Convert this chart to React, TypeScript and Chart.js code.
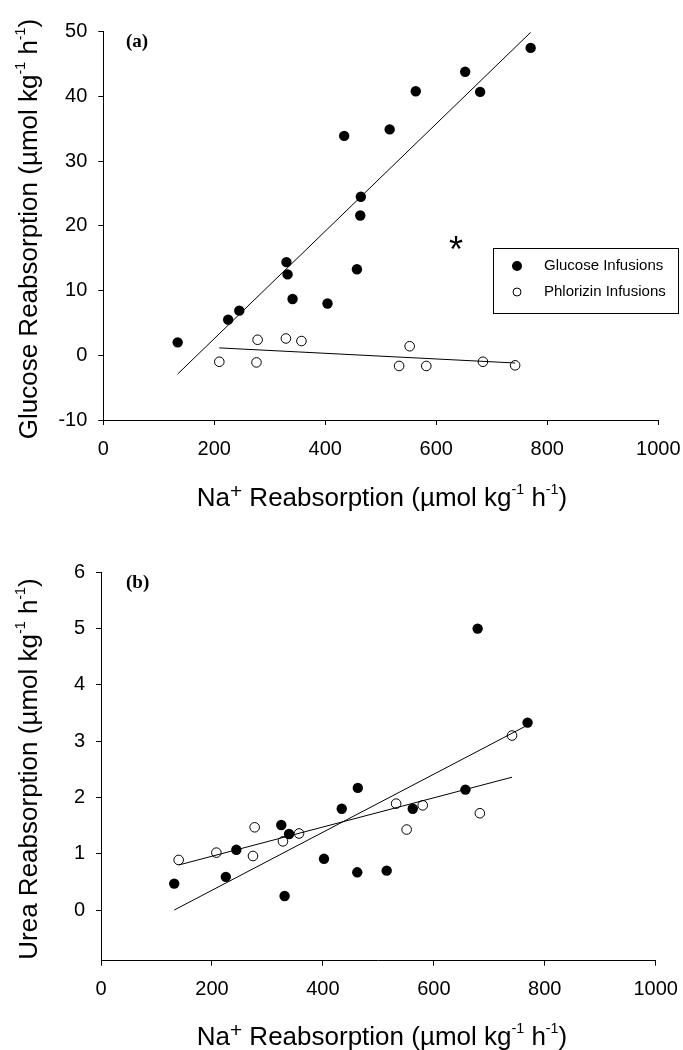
import React, { useEffect, useRef } from "react";
import { Chart, registerables } from "chart.js";

Chart.register(...registerables);

// ---------- data ----------
const naTicks = [0, 200, 400, 600, 800, 1000];
const glucoseTicks = [-10, 0, 10, 20, 30, 40, 50];
const ureaTicks = [0, 1, 2, 3, 4, 5, 6];

// Panel (a): glucose reabsorption vs Na+ reabsorption
const glucoseInfNa = [134, 225, 245, 330, 332, 341, 404, 434, 457, 463, 464, 516, 563, 652, 679, 770];
const glucoseInfGlu = [2.0, 5.5, 6.9, 14.4, 12.5, 8.7, 8.0, 33.9, 13.3, 21.6, 24.5, 34.9, 40.8, 43.8, 40.7, 47.5];
const phlorizinInfNa = [209, 276, 278, 329, 357, 533, 552, 582, 684, 742];
const phlorizinInfGlu = [-1.0, -1.1, 2.4, 2.6, 2.2, -1.65, 1.4, -1.65, -1.0, -1.55];
const glucoseFitNa = [134, 770];
const glucoseFitGlu = [-2.9, 49.9];
const phlorizinFitNa = [209, 742];
const phlorizinFitGlu = [1.14, -1.19];

// Panel (b): urea reabsorption vs Na+ reabsorption
const ureaGlucoseNa = [132, 225, 244, 325, 331, 339, 402, 434, 462, 463, 515, 562, 657, 679, 769];
const ureaGlucose = [0.47, 0.59, 1.07, 1.51, 0.25, 1.35, 0.91, 1.8, 0.67, 2.17, 0.7, 1.8, 2.14, 5.0, 3.33];
const ureaPhlorizinNa = [140, 208, 274, 277, 328, 357, 532, 551, 580, 683, 741];
const ureaPhlorizin = [0.89, 1.02, 0.96, 1.47, 1.22, 1.36, 1.89, 1.43, 1.86, 1.72, 3.1];
const ureaGlucoseFitNa = [132, 768];
const ureaGlucoseFit = [0.0, 3.28];
const ureaPhlorizinFitNa = [140, 741];
const ureaPhlorizinFit = [0.8, 2.36];

const legendLabels = ["Glucose Infusions", "Phlorizin Infusions"];

// ---------- helpers ----------
const SANS = "'Liberation Sans', Arial, Helvetica, sans-serif";
const SERIF = "'Liberation Serif', 'Times New Roman', serif";

type Seg = { t: string; scale?: number; rise?: number };

const naTitle: Seg[] = [
  { t: "Na" },
  { t: "+", scale: 0.8, rise: 0.3 },
  { t: " Reabsorption (\u00b5mol kg" },
  { t: "-1", scale: 0.55, rise: 0.45 },
  { t: " h" },
  { t: "-1", scale: 0.55, rise: 0.45 },
  { t: ")" },
];
const glucoseTitle: Seg[] = [
  { t: "Glucose Reabsorption (\u00b5mol kg" },
  { t: "-1", scale: 0.55, rise: 0.45 },
  { t: " h" },
  { t: "-1", scale: 0.55, rise: 0.45 },
  { t: ")" },
];
const ureaTitle: Seg[] = [
  { t: "Urea Reabsorption (\u00b5mol kg" },
  { t: "-1", scale: 0.55, rise: 0.45 },
  { t: " h" },
  { t: "-1", scale: 0.55, rise: 0.45 },
  { t: ")" },
];

function drawRich(
  ctx: CanvasRenderingContext2D,
  segs: Seg[],
  size: number,
  x: number,
  y: number,
  rotate: boolean
) {
  ctx.save();
  ctx.translate(x, y);
  if (rotate) ctx.rotate(-Math.PI / 2);
  ctx.fillStyle = "#000";
  ctx.textBaseline = "alphabetic";
  ctx.textAlign = "left";
  const widths: number[] = [];
  let total = 0;
  for (const s of segs) {
    ctx.font = `${size * (s.scale || 1)}px ${SANS}`;
    const w = ctx.measureText(s.t).width;
    widths.push(w);
    total += w;
  }
  let cx = -total / 2;
  segs.forEach((s, i) => {
    ctx.font = `${size * (s.scale || 1)}px ${SANS}`;
    ctx.fillText(s.t, cx, -(s.rise || 0) * size);
    cx += widths[i];
  });
  ctx.restore();
}

function pts(xs: number[], ys: number[]) {
  return xs.map((x, i) => ({ x, y: ys[i] }));
}

type PanelSpec = {
  W: number;
  H: number;
  left: number;
  right: number;
  top: number;
  bottom: number;
  yMin: number;
  yMax: number;
  yTicks: number[];
  filled: { x: number; y: number }[];
  open: { x: number; y: number }[];
  fits: { x: number; y: number }[][];
  decorate: (ctx: CanvasRenderingContext2D) => void;
};

function buildConfig(p: PanelSpec): any {
  const lineSets = p.fits.map((d) => ({
    data: d,
    showLine: true,
    borderColor: "#000",
    borderWidth: 1,
    pointRadius: 0,
    fill: false,
  }));
  return {
    type: "scatter",
    data: {
      datasets: [
        ...lineSets,
        {
          data: p.open,
          pointRadius: 4.8,
          pointBackgroundColor: "#fff",
          pointBorderColor: "#000",
          pointBorderWidth: 1,
          showLine: false,
        },
        {
          data: p.filled,
          pointRadius: 5.2,
          pointBackgroundColor: "#000",
          pointBorderColor: "#000",
          pointBorderWidth: 0,
          showLine: false,
        },
      ],
    },
    options: {
      responsive: false,
      animation: false,
      devicePixelRatio: 1,
      layout: {
        padding: { left: 0, top: p.top, right: p.W - p.right, bottom: 0 },
      },
      plugins: {
        legend: { display: false },
        tooltip: { enabled: false },
      },
      scales: {
        x: {
          type: "linear",
          min: 0,
          max: 1000,
          afterBuildTicks: (s: any) => {
            s.ticks = naTicks.map((v) => ({ value: v }));
          },
          afterFit: (s: any) => {
            s.height = p.H - p.bottom;
            s.paddingLeft = 0;
            s.paddingRight = 0;
          },
          grid: {
            display: true,
            drawOnChartArea: false,
            drawTicks: true,
            tickLength: 5,
            color: "#000",
            lineWidth: 1,
          },
          border: { display: true, color: "#000", width: 1 },
          ticks: {
            color: "#000",
            font: { family: SANS, size: 20 },
            padding: 12,
            maxRotation: 0,
            autoSkip: false,
            callback: (v: any) => String(v),
          },
        },
        y: {
          type: "linear",
          min: p.yMin,
          max: p.yMax,
          afterBuildTicks: (s: any) => {
            s.ticks = p.yTicks.map((v) => ({ value: v }));
          },
          afterFit: (s: any) => {
            s.width = p.left;
            s.paddingTop = 0;
            s.paddingBottom = 0;
          },
          grid: {
            display: true,
            drawOnChartArea: false,
            drawTicks: true,
            tickLength: 5,
            color: "#000",
            lineWidth: 1,
          },
          border: { display: true, color: "#000", width: 1 },
          ticks: {
            color: "#000",
            font: { family: SANS, size: 20 },
            padding: 11,
            autoSkip: false,
            callback: (v: any) => String(v),
          },
        },
      },
    },
    plugins: [
      {
        id: "decor",
        afterDraw: (chart: any) => {
          p.decorate(chart.ctx);
        },
      },
    ],
  };
}

function Panel({ spec, top }: { spec: PanelSpec; top: number }) {
  const ref = useRef<HTMLCanvasElement | null>(null);
  useEffect(() => {
    if (!ref.current) return;
    const chart = new Chart(ref.current, buildConfig(spec));
    return () => chart.destroy();
  }, []);
  return (
    <canvas
      ref={ref}
      width={spec.W}
      height={spec.H}
      style={{ position: "absolute", left: 0, top, width: spec.W, height: spec.H }}
    />
  );
}

const panelA: PanelSpec = {
  W: 683,
  H: 520,
  left: 103.3,
  right: 658.3,
  top: 31.7,
  bottom: 420,
  yMin: -10,
  yMax: 50,
  yTicks: glucoseTicks,
  filled: pts(glucoseInfNa, glucoseInfGlu),
  open: pts(phlorizinInfNa, phlorizinInfGlu),
  fits: [pts(glucoseFitNa, glucoseFitGlu), pts(phlorizinFitNa, phlorizinFitGlu)],
  decorate: (ctx) => {
    drawRich(ctx, naTitle, 26, 382, 506, false);
    drawRich(ctx, glucoseTitle, 26, 37, 229, true);
    // panel label
    ctx.save();
    ctx.fillStyle = "#000";
    ctx.font = `bold 19px ${SERIF}`;
    ctx.textBaseline = "middle";
    ctx.textAlign = "left";
    ctx.fillText("(a)", 126, 42);
    // asterisk
    ctx.font = `36px ${SANS}`;
    ctx.textAlign = "center";
    ctx.textBaseline = "alphabetic";
    const m = ctx.measureText("*");
    const asc = m.actualBoundingBoxAscent;
    const desc = m.actualBoundingBoxDescent;
    ctx.fillText("*", 456, 243 + (asc - desc) / 2);
    // legend
    ctx.strokeStyle = "#000";
    ctx.lineWidth = 1;
    ctx.strokeRect(493.5, 248.5, 185, 65);
    ctx.beginPath();
    ctx.arc(517, 266, 5, 0, Math.PI * 2);
    ctx.fill();
    ctx.beginPath();
    ctx.fillStyle = "#fff";
    ctx.arc(517, 292, 4, 0, Math.PI * 2);
    ctx.fill();
    ctx.stroke();
    ctx.fillStyle = "#000";
    ctx.font = `15px ${SANS}`;
    ctx.textAlign = "left";
    ctx.textBaseline = "middle";
    ctx.fillText(legendLabels[0], 544, 266);
    ctx.fillText(legendLabels[1], 544, 292);
    ctx.restore();
  },
};

const panelB: PanelSpec = {
  W: 683,
  H: 530,
  left: 101,
  right: 655.7,
  top: 52.3,
  bottom: 440.7,
  yMin: -0.9,
  yMax: 6,
  yTicks: ureaTicks,
  filled: pts(ureaGlucoseNa, ureaGlucose),
  open: pts(ureaPhlorizinNa, ureaPhlorizin),
  fits: [pts(ureaGlucoseFitNa, ureaGlucoseFit), pts(ureaPhlorizinFitNa, ureaPhlorizinFit)],
  decorate: (ctx) => {
    drawRich(ctx, naTitle, 26, 382, 525, false);
    drawRich(ctx, ureaTitle, 26, 37, 249, true);
    ctx.save();
    ctx.fillStyle = "#000";
    ctx.font = `bold 19px ${SERIF}`;
    ctx.textBaseline = "middle";
    ctx.textAlign = "left";
    ctx.fillText("(b)", 126, 63);
    ctx.restore();
  },
};

export default function App() {
  return (
    <div style={{ position: "absolute", left: 0, top: 0, width: 683, height: 1050, background: "#fff" }}>
      <Panel spec={panelA} top={0} />
      <Panel spec={panelB} top={520} />
    </div>
  );
}
